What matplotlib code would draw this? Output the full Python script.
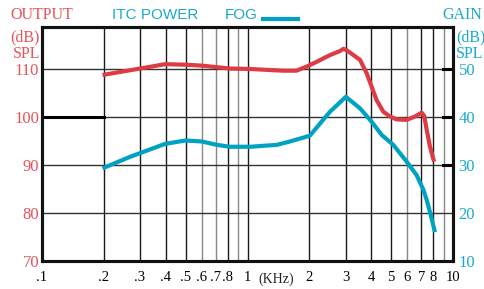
import numpy as np
import matplotlib
matplotlib.use("Agg")
import matplotlib.pyplot as plt

# OUTPUT curve (red), dB SPL, left axis
out_freq = [0.197, 0.3, 0.397, 0.497, 0.6, 0.82, 1.03, 1.49, 1.73, 1.94, 2.17, 2.52,
            2.82, 2.93, 3.04, 3.53, 3.8, 4.02, 4.25, 4.58, 4.94, 5.32, 5.95, 6.53,
            7.04, 7.25, 7.45, 7.73, 8.09]
out_db = [108.75, 110.1, 111.0, 110.9, 110.7, 110.1, 110.0, 109.65, 109.65, 110.5, 111.5, 112.9,
          113.75, 114.2, 113.9, 111.9, 109.1, 106.3, 103.5, 101.1, 100.1, 99.5, 99.4, 100.1,
          100.9, 100.2, 97.3, 93.8, 90.7]

# GAIN curve (blue), dB, right axis
gain_freq = [0.197, 0.268, 0.397, 0.497, 0.6, 0.708, 0.82, 1.03, 1.39, 1.61, 2.01, 2.52,
             3.01, 3.53, 4.02, 4.5, 5.12, 5.95, 6.65, 7.18, 7.45, 7.8, 8.17]
gain_db = [29.3, 31.7, 34.4, 35.1, 34.9, 34.2, 33.8, 33.8, 34.2, 34.9, 36.1, 41.1,
           44.2, 41.8, 39.0, 36.25, 34.2, 30.7, 27.9, 24.8, 22.7, 19.5, 16.0]

xticks = [0.1, 0.2, 0.3, 0.4, 0.5, 0.6, 0.7, 0.8, 1, 2, 3, 4, 5, 6, 7, 8, 10]
xlabels = [".1", ".2", ".3", ".4", ".5", ".6", ".7", ".8", "1", "2", "3", "4", "5", "6", "7", "8", "10"]
grid_x = [0.2, 0.3, 0.4, 0.5, 0.6, 0.7, 0.8, 0.9, 1, 2, 3, 4, 5, 6, 7, 8, 9]
grey_x = [0.6, 0.7, 0.9, 6, 9]
left_ticks = [70, 80, 90, 100, 110]
right_ticks = [10, 20, 30, 40, 50]

RED = "#de3c44"
BLUE = "#00a2c4"
RED_T = "#e8525a"
BLUE_T = "#1aa9cb"
SERIF = "Liberation Serif"
SANS = "Liberation Sans"

fig = plt.figure(figsize=(4.84, 2.89), dpi=100)
ax = fig.add_axes([42 / 484, 28 / 289, 411 / 484, 234 / 289])
ax.set_xscale("log")
ax.set_xlim(0.1, 10)
ax.set_ylim(70, 118.75)

for f in grid_x:
    ax.axvline(f, color="#888888" if f in grey_x else "#1a1a1a", lw=1.0, zorder=1)
for v in [80, 90, 100, 110]:
    ax.axhline(v, color="#333333", lw=1.0, zorder=1)
ax.plot([0.1, 0.2], [100, 100], color="black", lw=2.2, zorder=2)
for v in [90, 100, 110]:
    ax.plot([8.9, 10], [v, v], color="black", lw=2.2, zorder=2)

ax.plot(out_freq, out_db, color=RED, lw=3.0, solid_capstyle="butt", zorder=3)

ax2 = ax.twinx()
ax2.set_ylim(10, 58.75)
ax2.plot(gain_freq, gain_db, color=BLUE, lw=3.0, solid_capstyle="butt", zorder=3)

for a in (ax, ax2):
    for s in a.spines.values():
        s.set_linewidth(2.2)
        s.set_color("#111111")
    a.tick_params(length=0)

ax.set_xticks(xticks)
ax.set_xticklabels(xlabels, fontfamily=SERIF, fontsize=10.5)
ax.xaxis.set_minor_locator(matplotlib.ticker.NullLocator())
ax.tick_params(axis="x", pad=7)
ax.set_yticks(left_ticks)
ax.set_yticklabels([str(v) for v in left_ticks], fontfamily=SERIF, fontsize=12, color=RED_T)
ax.tick_params(axis="y", pad=2)
ax2.set_yticks(right_ticks)
ax2.set_yticklabels([str(v) for v in right_ticks], fontfamily=SERIF, fontsize=12, color=BLUE_T)
ax2.tick_params(axis="y", pad=4)

# header texts
fig.text(10 / 484, 1 - 15 / 289, "OUTPUT", fontfamily=SERIF, fontsize=11.5, color=RED_T, va="center")
fig.text(40 / 484, 1 - 37 / 289, "(dB)", fontfamily=SERIF, fontsize=11.5, color=RED_T, va="center", ha="right")
fig.text(40 / 484, 1 - 54 / 289, "SPL", fontfamily=SERIF, fontsize=11.5, color=RED_T, va="center", ha="right")
fig.text(112 / 484, 1 - 15 / 289, "ITC POWER", fontfamily=SANS, fontsize=11, color=BLUE_T, va="center")
fig.text(225 / 484, 1 - 15 / 289, "FOG", fontfamily=SANS, fontsize=11, color=BLUE_T, va="center")
fig.add_artist(plt.Line2D([263 / 484, 298 / 484], [1 - 19 / 289, 1 - 19 / 289], color=BLUE, lw=3.0))
fig.text(482 / 484, 1 - 15 / 289, "GAIN", fontfamily=SERIF, fontsize=11.5, color=BLUE_T, va="center", ha="right")
fig.text(456 / 484, 1 - 37 / 289, "(dB)", fontfamily=SERIF, fontsize=11.5, color=BLUE_T, va="center")
fig.text(456 / 484, 1 - 54 / 289, "SPL", fontfamily=SERIF, fontsize=11.5, color=BLUE_T, va="center")
fig.text(276 / 484, 1 - 279 / 289, "(KHz)", fontfamily=SERIF, fontsize=10, color="#222222", va="center", ha="center")

fig.savefig("out.png", dpi=100)
